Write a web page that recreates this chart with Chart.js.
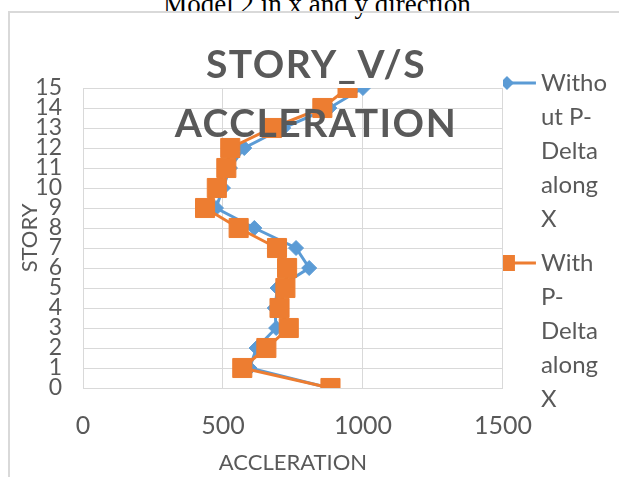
<!DOCTYPE html>
<html>
<head>
<meta charset="utf-8">
<title>Story v/s Accleration</title>
<script src="https://cdn.jsdelivr.net/npm/chart.js@4.4.1/dist/chart.umd.min.js"></script>
<style>
  html, body { margin: 0; padding: 0; overflow: hidden; background: #fff; }
  #wrap { position: relative; width: 619px; height: 477px; overflow: hidden; }
  #caption {
    position: absolute; left: 0; top: -9px; width: 634px;
    text-align: center; white-space: nowrap; color: #000;
    font: 27px/27px "Liberation Serif", "Times New Roman", serif;
  }
  #frame {
    position: absolute; left: 8px; top: 11px; width: 700px; height: 600px;
    border: 2px solid #d9d9d9; box-sizing: border-box;
  }
  #chart { position: absolute; left: 0; top: 0; }
</style>
</head>
<body>
<div id="wrap">
  <div id="caption">Model 2 in x and y direction</div>
  <div id="frame"></div>
  <canvas id="chart" width="619" height="477"></canvas>
</div>
<script>
// storey numbers and accelerations
var stories = [0, 1, 2, 3, 4, 5, 6, 7, 8, 9, 10, 11, 12, 13, 14, 15];
var withoutPDelta = [880, 595, 620, 690, 685, 695, 808, 761, 612, 475, 500, 525, 576, 715, 880, 1000];
var withPDelta = [884, 569, 655, 735, 702, 723, 729, 693, 556, 436, 478, 512, 526, 675, 855, 945];

var seriesNames = ['Without P-Delta along X', 'With P-Delta along X'];
// the legend wraps the names like this in the original
var legendLines = [
    ['Witho', 'ut P-', 'Delta', 'along', 'X'],
    ['With', 'P-', 'Delta', 'along', 'X']
];
var titleLines = ['STORY_V/S', 'ACCLERATION'];
var xTicks = [0, 500, 1000, 1500];

var BLUE = '#5B9BD5';
var ORANGE = '#ED7D31';
var GREY = '#595959';
var GRID = '#D9D9D9';

Chart.defaults.font.family = 'Lato, "Open Sans", sans-serif';
Chart.defaults.color = GREY;

// line + marker image for the legend entries
function legendMarker(color, style) {
    var c = document.createElement('canvas');
    c.width = 84;
    c.height = 24;
    var g = c.getContext('2d');
    g.strokeStyle = color;
    g.lineWidth = 3;
    g.beginPath();
    g.moveTo(0, 12);
    g.lineTo(57, 12);
    g.stroke();
    g.fillStyle = color;
    if (style === 'rect') {
        g.fillRect(20, 4, 16, 16);
    } else {
        g.beginPath();
        g.moveTo(28, 5);
        g.lineTo(35, 12);
        g.lineTo(28, 19);
        g.lineTo(21, 12);
        g.closePath();
        g.fill();
    }
    return c;
}

var markers = [legendMarker(BLUE, 'rectRot'), legendMarker(ORANGE, 'rect')];

// chart title sits over the plot, like the Excel original
var overlayTitle = {
    id: 'overlayTitle',
    afterDatasetsDraw: function (chart) {
        var ctx = chart.ctx;
        ctx.save();
        ctx.font = 'bold 39px Lato, "Open Sans", sans-serif';
        ctx.fillStyle = GREY;
        ctx.textAlign = 'center';
        ctx.textBaseline = 'alphabetic';
        ctx.letterSpacing = '1.5px';
        titleLines.forEach(function (t, i) {
            ctx.fillText(t, 316, 78 + i * 59);
        });
        ctx.restore();
    }
};

function points(values) {
    return stories.map(function (s, i) {
        return { x: values[i], y: s };
    });
}

var ctx = document.getElementById('chart').getContext('2d');
var myChart = new Chart(ctx, {
    type: 'scatter',
    data: {
        datasets: [{
            label: seriesNames[0],
            data: points(withoutPDelta),
            showLine: true,
            borderColor: BLUE,
            backgroundColor: BLUE,
            borderWidth: 3,
            pointStyle: 'rectRot',
            pointRadius: 7.5,
            pointBorderWidth: 1,
            tension: 0,
            order: 1
        }, {
            label: seriesNames[1],
            data: points(withPDelta),
            showLine: true,
            borderColor: ORANGE,
            backgroundColor: ORANGE,
            borderWidth: 3,
            pointStyle: 'rect',
            pointRadius: 13.5,
            pointBorderWidth: 1,
            tension: 0,
            order: 0
        }]
    },
    options: {
        responsive: false,
        animation: false,
        layout: { padding: { left: 0, top: 61, right: 11, bottom: 0 } },
        plugins: {
            tooltip: { enabled: false },
            legend: {
                position: 'right',
                align: 'start',
                labels: {
                    usePointStyle: true,
                    pointStyleWidth: 16,
                    padding: 10,
                    color: GREY,
                    font: { size: 24, lineHeight: '34px' },
                    generateLabels: function (chart) {
                        return chart.data.datasets.map(function (ds, i) {
                            return {
                                text: legendLines[i],
                                fillStyle: ds.backgroundColor,
                                strokeStyle: ds.borderColor,
                                lineWidth: 0,
                                pointStyle: markers[i],
                                fontColor: GREY,
                                hidden: false,
                                datasetIndex: i
                            };
                        });
                    }
                }
            }
        },
        scales: {
            x: {
                type: 'linear',
                position: 'bottom',
                min: 0,
                max: 1500,
                afterBuildTicks: function (s) {
                    s.ticks = xTicks.map(function (v) { return { value: v }; });
                },
                afterFit: function (s) { s.height = 89; },
                grid: { color: GRID, drawTicks: false },
                border: { color: GRID },
                ticks: {
                    font: { size: 25 },
                    padding: 23,
                    color: GREY,
                    callback: function (v) { return String(v); }
                },
                title: {
                    display: true,
                    text: 'ACCLERATION',
                    color: GREY,
                    font: { size: 22 },
                    padding: { top: 0, bottom: 1 }
                }
            },
            x2: {
                type: 'linear',
                position: 'top',
                display: true,
                grid: { display: false, drawTicks: false },
                border: { display: false },
                ticks: { display: false },
                afterFit: function (s) { s.height = 27; }
            },
            y: {
                type: 'linear',
                min: 0,
                max: 15,
                afterBuildTicks: function (s) {
                    s.ticks = stories.map(function (v) { return { value: v }; });
                },
                afterFit: function (s) { s.width = 83; },
                grid: { color: GRID, drawTicks: false },
                border: { color: GRID },
                ticks: { font: { size: 23 }, padding: 21, autoSkip: false, color: GREY },
                title: {
                    display: true,
                    text: 'STORY',
                    color: GREY,
                    font: { size: 22 },
                    padding: { top: 17, bottom: 0 }
                }
            }
        }
    },
    plugins: [overlayTitle]
});
</script>
</body>
</html>
